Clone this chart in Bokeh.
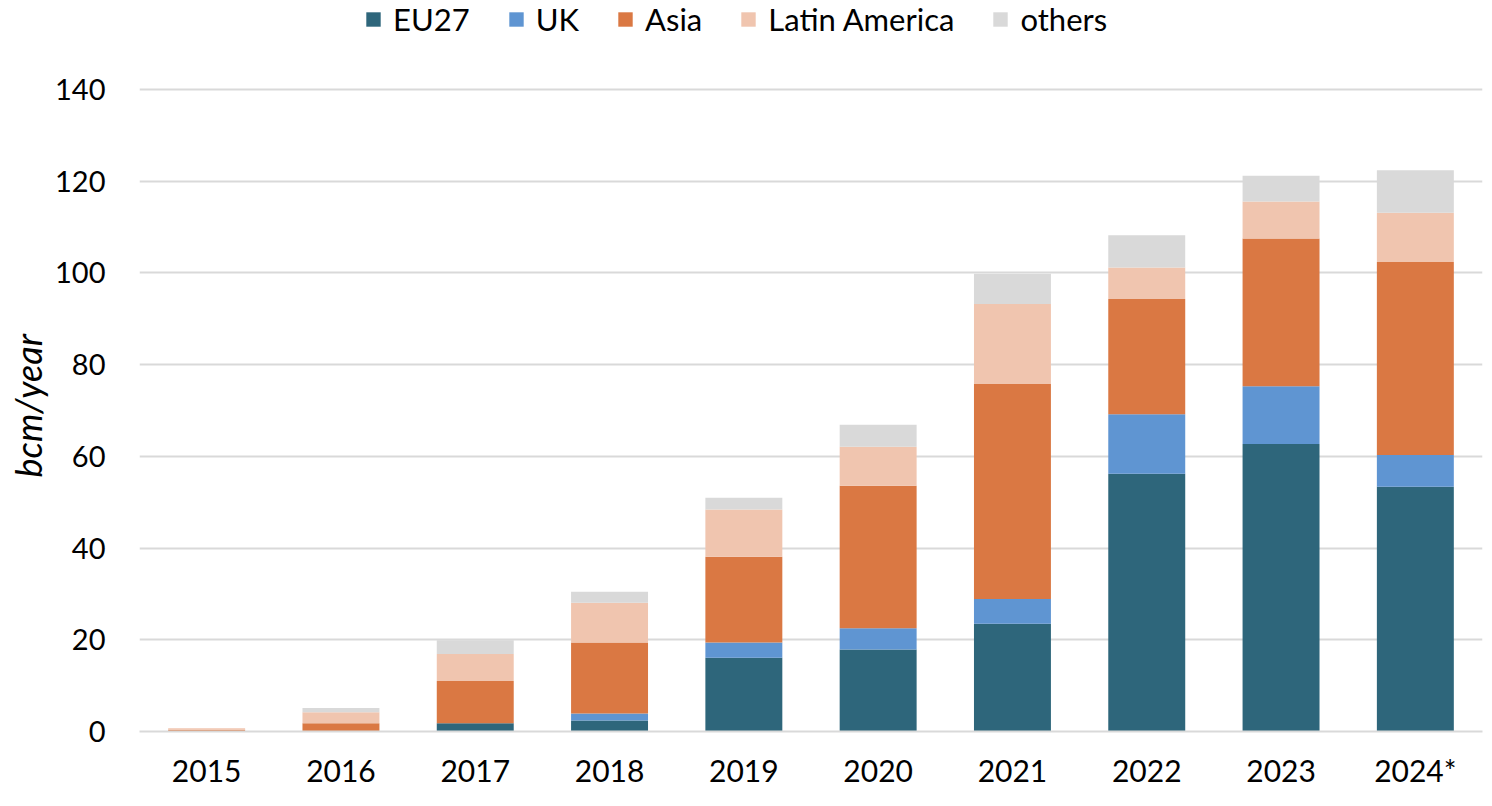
from bokeh.plotting import figure
from bokeh.models import ColumnDataSource, Legend, LegendItem, FixedTicker, Range1d, FactorRange, Title
from bokeh.embed import file_html
from bokeh.resources import INLINE

years = ["2015", "2016", "2017", "2018", "2019", "2020", "2021", "2022", "2023", "2024*"]
series = ["EU27", "UK", "Asia", "Latin America", "others"]
eu27 = [0, 0, 1.8, 2.4, 16.1, 17.9, 23.5, 56.2, 62.7, 53.4]
uk = [0, 0, 0, 1.5, 3.3, 4.6, 5.4, 13.0, 12.6, 6.9]
asia = [0.4, 1.8, 9.2, 15.5, 18.7, 31.1, 46.9, 25.1, 32.2, 42.1]
latin = [0.3, 2.4, 5.9, 8.7, 10.3, 8.5, 17.4, 6.9, 8.1, 10.7]
others = [0, 0.9, 3.0, 2.4, 2.6, 4.8, 6.6, 7.0, 5.6, 9.3]
y_ticks = [0, 20, 40, 60, 80, 100, 120, 140]
colors = ["#2E667B", "#5F95D2", "#DA7843", "#F0C5AF", "#D9D9D9"]

data = {"year": years, "EU27": eu27, "UK": uk, "Asia": asia, "Latin America": latin, "others": others}
src = ColumnDataSource(data)

# frame extends above the 140 gridline so the legend can sit inside it
p = figure(x_range=FactorRange(*years, range_padding=0), y_range=Range1d(0, 159.41),
           frame_width=1343, frame_height=731, output_backend="svg", toolbar_location=None,
           min_border_left=130, min_border_right=3, min_border_top=0, min_border_bottom=40)
p.outline_line_color = None
renderers = p.vbar_stack(series, x="year", width=0.573, color=colors, source=src, line_width=0)

p.yaxis.ticker = FixedTicker(ticks=y_ticks)
p.yaxis.axis_line_color = None
p.yaxis.major_tick_line_color = None
p.yaxis.minor_tick_line_color = None
p.yaxis.major_label_text_font = "Lato"
p.yaxis.major_label_text_font_size = "29px"
p.yaxis.major_label_text_color = "#000000"
p.yaxis.major_label_standoff = 28

ylab = Title(text="bcm/year", align="left", offset=254, standoff=6,
             text_font="Lato", text_font_style="italic", text_font_size="36px",
             text_color="#000000")
p.add_layout(ylab, "left")

p.xaxis.axis_line_color = "#D9D9D9"
p.xaxis.axis_line_width = 2
p.xaxis.major_tick_line_color = None
p.xaxis.minor_tick_line_color = None
p.xaxis.major_label_text_font = "Lato"
p.xaxis.major_label_text_font_size = "30px"
p.xaxis.major_label_text_color = "#000000"
p.xaxis.major_label_standoff = 14

p.xgrid.grid_line_color = None
p.ygrid.grid_line_color = "#D9D9D9"
p.ygrid.grid_line_width = 2

legend = Legend(items=[LegendItem(label=s, renderers=[r]) for s, r in zip(series, renderers)],
                orientation="horizontal", location=(225, 693))
legend.label_text_font = "Lato"
legend.label_text_font_size = "31px"
legend.label_text_color = "#000000"
legend.glyph_width = 18
legend.glyph_height = 18
legend.spacing = 37
legend.label_standoff = 11
legend.border_line_color = None
legend.background_fill_alpha = 0
legend.padding = 0
legend.margin = 0
p.add_layout(legend, "center")

open("out.html", "w").write(file_html(p, INLINE))
